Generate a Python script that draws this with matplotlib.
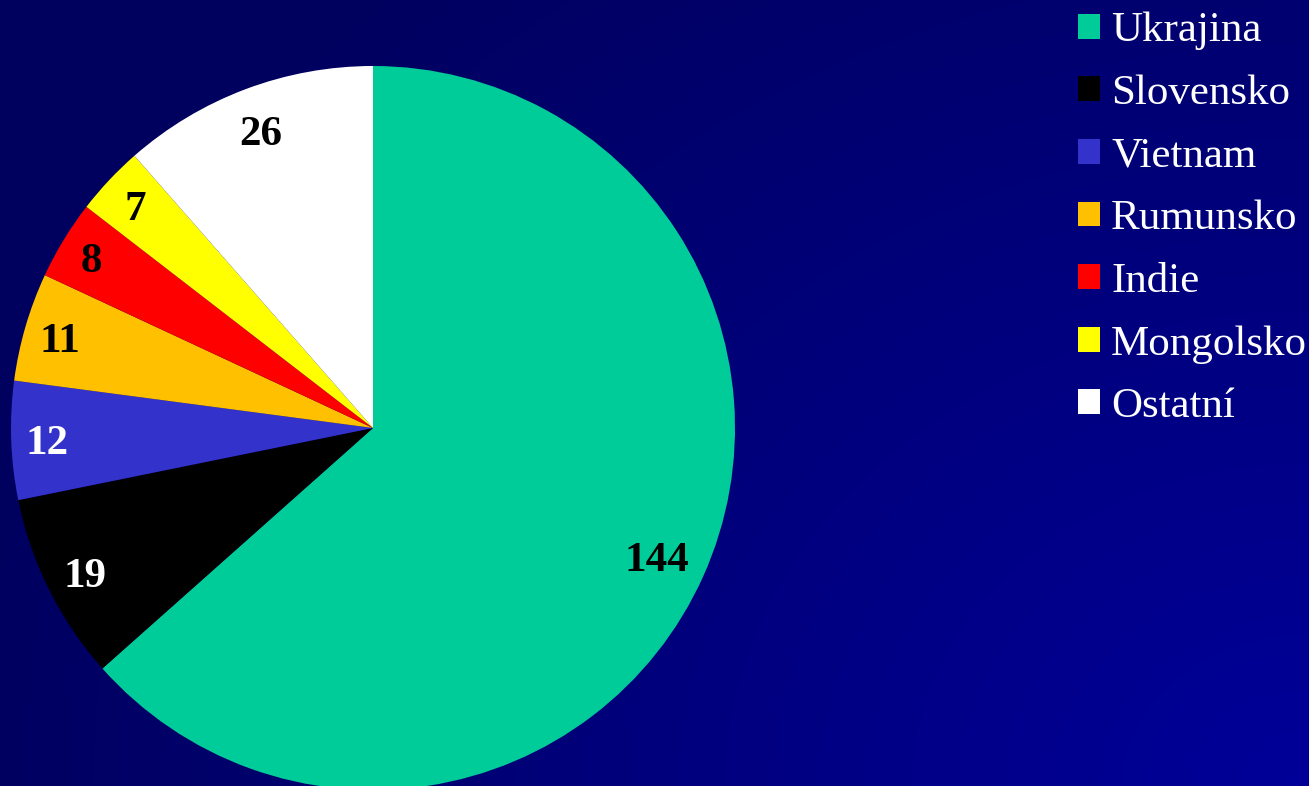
import numpy as np
import matplotlib.pyplot as plt
from matplotlib.patches import Patch

countries = ['Ukrajina', 'Slovensko', 'Vietnam', 'Rumunsko', 'Indie', 'Mongolsko', 'Ostatní']
values = [144, 19, 12, 11, 8, 7, 26]
colors = ['#00CC99', '#000000', '#3333CC', '#FFC000', '#FF0000', '#FFFF00', '#FFFFFF']
label_colors = ['black', 'white', 'white', 'black', 'black', 'black', 'black']
label_dist = [0.86, 0.89, 0.90, 0.90, 0.91, 0.90, 0.88]

W, H = 1309, 786
fig = plt.figure(figsize=(W / 100, H / 100), dpi=100)

# background gradient, dark at top-left, brighter blue toward bottom-right
bg = fig.add_axes([0, 0, 1, 1])
yy, xx = np.mgrid[0:H, 0:W]
u = (W - xx) / W
v = 1 - yy / H
t = np.clip(1 - np.sqrt(0.9 * u**2 + 0.49 * v**2), 0, 1)
img = np.zeros((H, W, 3))
img[..., 2] = (94 + 59 * t) / 255
bg.imshow(img, aspect='auto', extent=[0, 1, 0, 1], origin='upper')
bg.axis('off')

# pie centre (373, 428) px, radius 362 px
r = 362
ax = fig.add_axes([(373 - r) / W, (H - 428 - r) / H, 2 * r / W, 2 * r / H])
ax.set_facecolor('none')
wedges, texts = ax.pie(values, colors=colors, startangle=90, counterclock=False,
                       labels=[str(x) for x in values], labeldistance=1.0,
                       wedgeprops=dict(linewidth=0), radius=1)
for tx, col, d in zip(texts, label_colors, label_dist):
    x, y = tx.get_position()
    tx.set_position((x * d, y * d - 0.014))
    tx.set_color(col)
    tx.set_fontsize(31)
    tx.set_fontweight('bold')
    tx.set_family('Liberation Serif')
    tx.set_horizontalalignment('center')
    tx.set_verticalalignment('center')
ax.set_xlim(-1, 1)
ax.set_ylim(-1, 1)
ax.set_aspect('equal')
for w in wedges:
    w.set_clip_on(False)

handles = [Patch(facecolor=col, edgecolor='none') for col in colors]
leg = fig.legend(handles, countries, loc='upper left', bbox_to_anchor=(1078 / W, 1 - 12 / H),
                 frameon=False, handlelength=0.51, handleheight=0.51,
                 handletextpad=0.26, labelspacing=0.56, borderaxespad=0, borderpad=0,
                 prop={'family': 'Liberation Serif', 'size': 31})
for tx in leg.get_texts():
    tx.set_color('white')

fig.savefig('out.png', dpi=100)
